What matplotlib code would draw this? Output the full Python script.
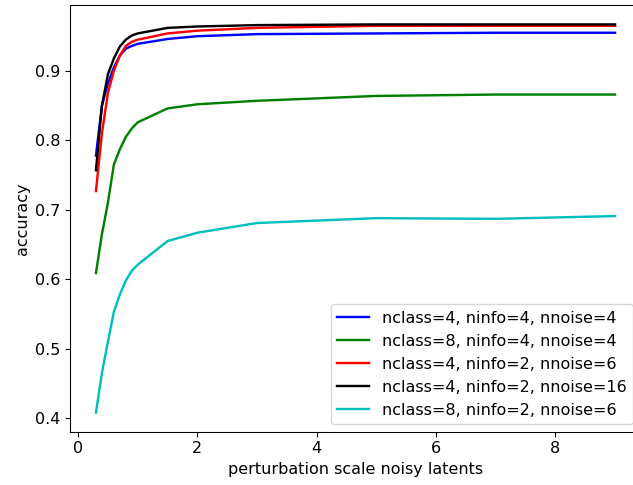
import numpy as np
import matplotlib
matplotlib.use('Agg')
import matplotlib.pyplot as plt

scales = [0.3, 0.4, 0.5, 0.6, 0.7, 0.8, 0.9, 1.0, 1.5, 2, 3, 5, 7, 9]

acc_c4_i4_n4 = [0.778, 0.850, 0.882, 0.905, 0.922, 0.932, 0.936, 0.939, 0.946, 0.950, 0.953, 0.954, 0.955, 0.955]
acc_c8_i4_n4 = [0.609, 0.665, 0.710, 0.765, 0.787, 0.805, 0.817, 0.826, 0.846, 0.852, 0.857, 0.864, 0.866, 0.866]
acc_c4_i2_n6 = [0.727, 0.810, 0.868, 0.900, 0.922, 0.936, 0.942, 0.945, 0.954, 0.958, 0.962, 0.965, 0.965, 0.965]
acc_c4_i2_n16 = [0.757, 0.850, 0.895, 0.918, 0.935, 0.945, 0.951, 0.954, 0.962, 0.964, 0.966, 0.967, 0.967, 0.967]
acc_c8_i2_n6 = [0.408, 0.465, 0.510, 0.553, 0.578, 0.598, 0.612, 0.621, 0.655, 0.667, 0.681, 0.688, 0.687, 0.691]

labels = ['nclass=4, ninfo=4, nnoise=4',
          'nclass=8, ninfo=4, nnoise=4',
          'nclass=4, ninfo=2, nnoise=6',
          'nclass=4, ninfo=2, nnoise=16',
          'nclass=8, ninfo=2, nnoise=6']

plt.rcParams['font.size'] = 12
fig = plt.figure(figsize=(633 / 96, 485 / 96), dpi=96)
ax = fig.add_axes([70 / 633, 53 / 485, 571 / 633, 427 / 485])
ax.plot(scales, acc_c4_i4_n4, c='b', lw=1.8, label=labels[0])
ax.plot(scales, acc_c8_i4_n4, c='g', lw=1.8, label=labels[1])
ax.plot(scales, acc_c4_i2_n6, c='r', lw=1.8, label=labels[2])
ax.plot(scales, acc_c4_i2_n16, c='k', lw=1.8, label=labels[3])
ax.plot(scales, acc_c8_i2_n6, c='c', lw=1.8, label=labels[4])
ax.set_xlabel('perturbation scale noisy latents')
ax.set_ylabel('accuracy')
ax.legend(loc='lower right')
fig.savefig('out.png', dpi=96)
